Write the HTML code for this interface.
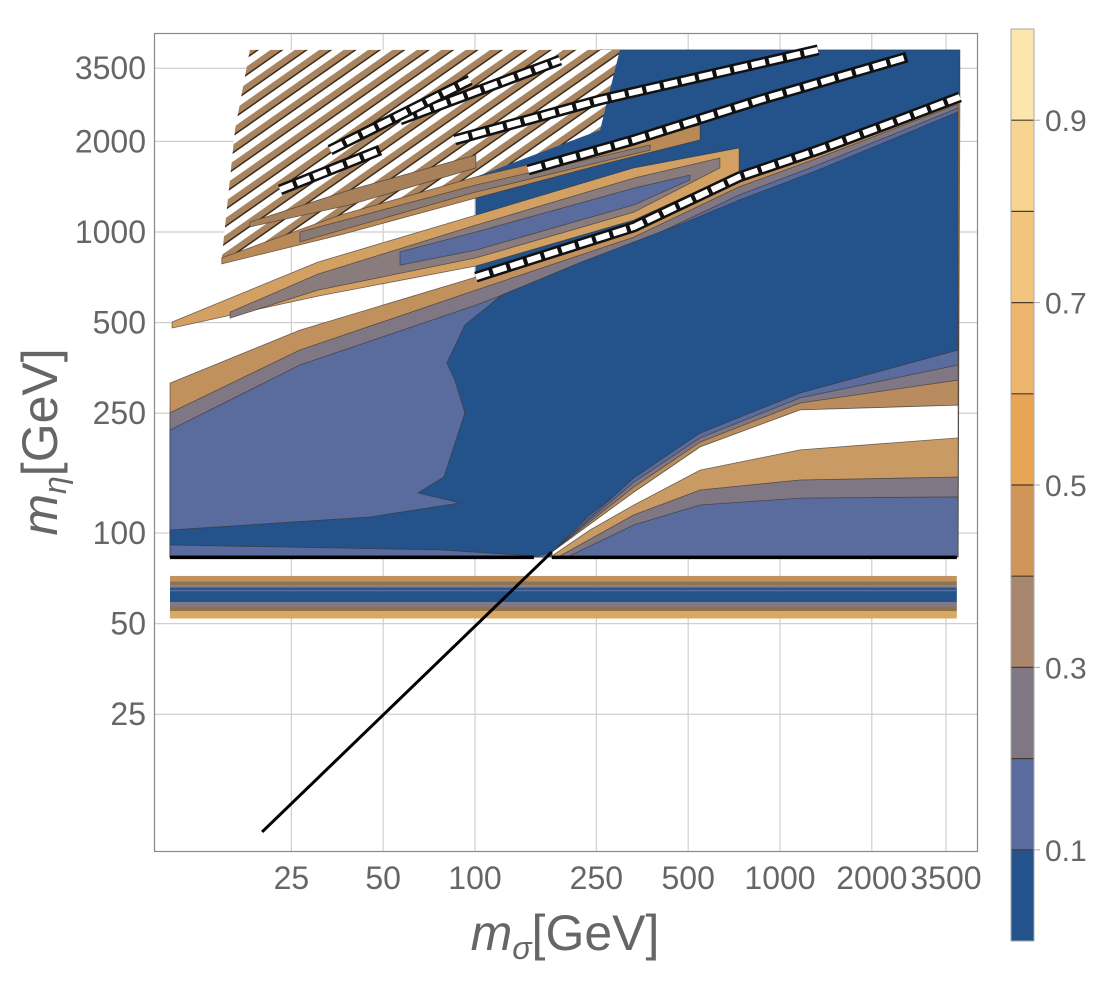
<!DOCTYPE html>
<html><head><meta charset="utf-8"><style>
html,body{margin:0;padding:0;background:#fff;}
svg{display:block;font-family:"Liberation Sans",sans-serif;}
</style></head><body>
<svg id="chart" width="1103" height="998" viewBox="0 0 1103 998">
<defs>
<pattern id="tex" width="14" height="14" patternUnits="userSpaceOnUse" patternTransform="rotate(-35)">
<rect width="14" height="14" fill="#fff"/>
<rect width="14" height="6" fill="#a88560"/>
<rect y="6" width="14" height="1.5" fill="#3a2a1a"/>
</pattern>
</defs>
<g id="grid"></g>
<g id="contours"></g>
<rect x="154.5" y="33.5" width="823" height="818" fill="none" stroke="#888" stroke-width="1.2"/>
<g id="ticks"></g>
<text x="565" y="950" font-size="50" fill="#666" text-anchor="middle"><tspan font-style="italic">m</tspan><tspan font-style="italic" font-size="32" dy="9">σ</tspan><tspan dy="-9">[GeV]</tspan></text>
<text transform="translate(57,442) rotate(-90)" font-size="50" fill="#666" text-anchor="middle"><tspan font-style="italic">m</tspan><tspan font-style="italic" font-size="32" dy="9">η</tspan><tspan dy="-9">[GeV]</tspan></text>
<g id="colorbar"></g>
</svg>
<script>
const NS="http://www.w3.org/2000/svg";
// axis ticks (GeV)
const xTicks=[25,50,100,250,500,1000,2000,3500];
const yTicks=[25,50,100,250,500,1000,2000,3500];
// colorbar levels
const cbLevels=[0,0.1,0.2,0.3,0.4,0.5,0.6,0.7,0.8,0.9,1.0];
const cbColors=["#24528a","#5a6b9e","#7f7783","#a8876e","#d09558","#e8a555","#ecb46c","#f2c47e","#f8d491","#fde6ae"];
const cbLabels=[0.1,0.3,0.5,0.7,0.9];
// contour regions as [log10 m_sigma, log10 m_eta]
const regionOrange=[[1.000,2.498],[1.426,2.674],[2.003,2.850],[2.521,3.017],[2.866,3.183],[3.125,3.272],[3.416,3.382],[3.590,3.449],[3.584,1.920],[1.000,1.920]];
const regionGray=[[1.0,2.399],[1.426,2.608],[2.003,2.807],[2.521,2.983],[2.866,3.150],[3.125,3.246],[3.584,3.425],[3.584,1.920],[1.000,1.920]];
const regionLight=[[1.0,2.342],[1.426,2.558],[2.003,2.757],[2.521,2.957],[2.866,3.123],[3.125,3.223],[3.584,3.412],[3.584,1.920],[1.000,1.920]];
const regionUpperDark=[[2.003,2.850],[2.521,3.017],[2.866,3.183],[3.125,3.272],[3.416,3.382],[3.590,3.449],[3.590,3.605],[2.410,3.605],[2.003,3.339]];
const regionDark=[[3.584,3.399],[3.125,3.206],[2.866,3.106],[2.692,3.033],[2.348,2.900],[2.089,2.791],[1.967,2.691],[1.908,2.565],[1.934,2.508],[1.967,2.399],[1.898,2.186],[1.813,2.133],[1.951,2.100],[1.656,2.053],[1.000,2.010],[1.000,1.920],[2.193,1.920],[2.252,1.937],[2.377,2.060],[2.521,2.176],[2.738,2.326],[3.066,2.458],[3.584,2.608]];
const regionStrip=[[1.0,1.960],[1.885,1.944],[2.193,1.924],[1.0,1.924]];
const upperFanLight=[[2.252,1.937],[2.521,2.183],[2.738,2.332],[3.066,2.465],[3.584,2.608],[3.584,1.920],[2.252,1.920]];
const upperFanGray=[[2.252,1.937],[2.521,2.169],[2.738,2.316],[3.066,2.449],[3.584,2.558],[3.584,1.920],[2.252,1.920]];
const upperFanOrange=[[2.252,1.937],[2.521,2.153],[2.738,2.302],[3.066,2.432],[3.584,2.508],[3.584,1.920],[2.252,1.920]];
const fanGap=[[2.252,1.937],[2.521,2.136],[2.738,2.286],[3.066,2.409],[3.584,2.425],[3.584,1.920],[2.252,1.920]];
const lowerFanOrange=[[2.252,1.924],[2.377,2.010],[2.521,2.093],[2.738,2.209],[3.066,2.276],[3.584,2.316],[3.584,1.920],[2.252,1.920]];
const lowerFanGray=[[2.279,1.924],[2.521,2.060],[2.738,2.143],[3.066,2.176],[3.584,2.186],[3.584,1.920],[2.279,1.920]];
const lowerFanLight=[[2.311,1.924],[2.521,2.027],[2.738,2.093],[3.066,2.116],[3.584,2.120],[3.584,1.920],[2.311,1.920]];
const finger1Outer=[[1.007,2.701],[1.485,2.900],[2.003,3.056],[2.521,3.213],[2.866,3.279],[2.866,3.199],[2.521,3.040],[2.003,2.887],[1.485,2.787],[1.007,2.681]];
const finger1Mid=[[1.197,2.734],[1.485,2.860],[2.003,3.023],[2.521,3.179],[2.803,3.246],[2.803,3.213],[2.521,3.066],[2.003,2.914],[1.485,2.807],[1.197,2.714]];
const finger1Inner=[[1.754,2.934],[2.003,3.000],[2.521,3.146],[2.705,3.189],[2.705,3.173],[2.521,3.090],[2.003,2.940],[1.754,2.890]];
const finger2Outer=[[1.170,2.914],[1.557,3.056],[2.003,3.183],[2.410,3.279],[2.738,3.355],[2.738,3.306],[2.410,3.223],[2.003,3.113],[1.557,2.990],[1.170,2.894]];
const finger2Inner=[[1.426,3.000],[2.003,3.156],[2.574,3.289],[2.574,3.272],[2.003,3.133],[1.426,2.967]];
const finger3=[[1.262,3.033],[1.590,3.140],[2.003,3.256],[2.003,3.213],[1.590,3.090],[1.262,3.017]];
const textured=[[1.170,2.914],[2.003,3.183],[2.410,3.339],[2.475,3.605],[1.262,3.605],[1.213,3.339]];
const chains=[
 [[2.003,2.850],[2.521,3.017],[2.866,3.183],[3.125,3.272],[3.416,3.382],[3.590,3.449]],
 [[2.174,3.206],[2.521,3.306],[2.934,3.439],[3.416,3.581]],
 [[1.934,3.306],[2.410,3.439],[3.125,3.605]],
 [[1.754,3.372],[2.279,3.571]],
 [[1.525,3.272],[1.984,3.505]],
 [[1.361,3.140],[1.689,3.272]]
];
const diagLine=[[1.302,1.007],[2.252,1.937]];
// lower band stripes (GeV)
const bandLo=[52,55,57,59,64,66,67,69];
const bandHi=[55,57,59,66,64.8,67,69,72];
const bandColor=["#d9a865","#8f7350","#7e7a8a","#24528a","#5a6b9e","#7e7a8a","#8f7350","#c0925e"];
const etaLine=83;
const msMin=10, msMax=3800;

const X=v=>475+305*(Math.log10(v)-2);
const Y=v=>533-301*(Math.log10(v)-2);
const LX=l=>475+305*(l-2);
const LY=l=>533-301*(l-2);
function el(tag,attrs,parent){const e=document.createElementNS(NS,tag);for(const k in attrs)e.setAttribute(k,attrs[k]);parent.appendChild(e);return e;}
const grid=document.getElementById('grid');
xTicks.forEach(t=>{const l=el('line',{x1:X(t),x2:X(t),y1:33,y2:851,stroke:'#cfcfcf','stroke-width':1.2},grid);

});
yTicks.forEach(t=>{const l=el('line',{x1:154,x2:978,y1:Y(t),y2:Y(t),stroke:'#cfcfcf','stroke-width':1.2},grid);

});
const ticks=document.getElementById('ticks');
xTicks.forEach(t=>{const tx=el('text',{x:X(t),y:889,'font-size':32,fill:'#666','text-anchor':'middle'},ticks);tx.textContent=t;

});
yTicks.forEach(t=>{const tx=el('text',{x:146,y:Y(t)+11,'font-size':32,fill:'#666','text-anchor':'end'},ticks);tx.textContent=t;

});

const C=document.getElementById('contours');
function poly(pts,fill,name,stroke){const p=el('polygon',{points:pts.map(q=>LX(q[0]).toFixed(1)+','+LY(q[1]).toFixed(1)).join(' '),fill:fill,stroke:stroke||'#3a3530','stroke-width':0.8,'stroke-opacity':0.7},C);

return p;}
// lower band
bandLo.forEach((lo,i)=>{const r=el('rect',{x:X(msMin),y:Y(bandHi[i]),width:X(msMax)-X(msMin),height:Y(lo)-Y(bandHi[i]),fill:bandColor[i]},C);

});
poly(regionOrange,'#c1915d','region-level-0.4');
poly(regionGray,'#7f7783','region-level-0.2');
poly(regionLight,'#5a6b9e','region-level-0.1');
poly(regionUpperDark,'#24528a','upper-dark-region');
poly(regionDark,'#24528a','region-level-0.0');
poly(regionStrip,'#5a6b9e','light-strip');
poly(upperFanLight,'#5a6b9e','upper-fan-light');
poly(upperFanGray,'#7f7783','upper-fan-gray');
poly(upperFanOrange,'#b88c5e','upper-fan-orange');
poly(fanGap,'#ffffff','fan-gap','#2a2520');
poly(lowerFanOrange,'#c99a64','lower-fan-orange');
poly(lowerFanGray,'#7f7783','lower-fan-gray');
poly(lowerFanLight,'#5a6b9e','lower-fan-light');
poly(textured,'url(#tex)','textured-region','none');
poly(finger1Outer,'#d3a064','finger-1-outer');
poly(finger1Mid,'#8a7c7c','finger-1-mid');
poly(finger1Inner,'#5a6b9e','finger-1-inner');
poly(finger2Outer,'#b98a58','finger-2-outer');
poly(finger2Inner,'#8a7a76','finger-2-inner');
poly(finger3,'#a8805a','finger-3');
chains.forEach(ch=>{const d=ch.map(q=>LX(q[0]).toFixed(1)+','+LY(q[1]).toFixed(1)).join(' ');
const a=el('polyline',{points:d,fill:'none',stroke:'#111','stroke-width':11,'stroke-linejoin':'round'},C);


const b=el('polyline',{points:d,fill:'none',stroke:'#fff','stroke-width':6,'stroke-dasharray':'14 4'},C);

});
// black horizontal line
const h1=el('line',{x1:X(msMin),x2:LX(2.193),y1:Y(etaLine),y2:Y(etaLine),stroke:'#000','stroke-width':3.5},C);


const h2=el('line',{x1:LX(2.252),x2:X(msMax),y1:Y(etaLine),y2:Y(etaLine),stroke:'#000','stroke-width':3.5},C);


const dl=el('line',{x1:LX(diagLine[0][0]),y1:LY(diagLine[0][1]),x2:LX(diagLine[1][0]),y2:LY(diagLine[1][1]),stroke:'#000','stroke-width':3},C);



// colorbar
const cb=document.getElementById('colorbar');
const cbTop=29,cbBot=941,cbX=1011,cbW=23;
const CY=v=>cbBot-(cbBot-cbTop)*v;
cbColors.forEach((c,i)=>{const r=el('rect',{x:cbX,y:CY(cbLevels[i+1]),width:cbW,height:CY(cbLevels[i])-CY(cbLevels[i+1]),fill:c},cb);


if(i>0){const l=el('line',{x1:cbX,x2:cbX+cbW,y1:CY(cbLevels[i]),y2:CY(cbLevels[i]),stroke:'#4a3a2a','stroke-width':1.2},cb);

}});
const fr=el('rect',{x:cbX,y:cbTop,width:cbW,height:cbBot-cbTop,fill:'none',stroke:'#aaa','stroke-width':1},cb);


cbLabels.forEach(v=>{const l=el('line',{x1:cbX+cbW,x2:cbX+cbW+6,y1:CY(v),y2:CY(v),stroke:'#aaa'},cb);


const t=el('text',{x:1045,y:CY(v)+11,'font-size':30,fill:'#666'},cb);t.textContent=v.toFixed(1);

});
</script>
</body></html>
